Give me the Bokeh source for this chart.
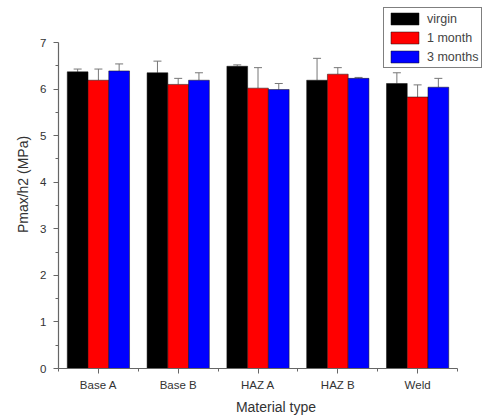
from bokeh.plotting import figure
from bokeh.models import (FixedTicker, Legend, LegendItem, Whisker, ColumnDataSource,
                          TeeHead, LinearAxis, Range1d)
from bokeh.embed import file_html
from bokeh.resources import INLINE

categories = ["Base A", "Base B", "HAZ A", "HAZ B", "Weld"]
virgin = [6.37, 6.35, 6.49, 6.19, 6.12]
month1 = [6.19, 6.10, 6.02, 6.32, 5.83]
month3 = [6.39, 6.19, 5.99, 6.23, 6.04]
err_virgin = [0.06, 0.25, 0.03, 0.47, 0.23]
err_month1 = [0.24, 0.13, 0.44, 0.14, 0.26]
err_month3 = [0.15, 0.16, 0.13, 0.02, 0.19]
series_names = ["virgin", "1 month", "3 months"]
colors = ["#000000", "#ff0000", "#0000ff"]

FONT = "Liberation Sans"

# frame spans to top/right edges so the legend can sit where the reference has it;
# the axes are bounded to the data region (x 0.5-5.5, y 0-7)
p = figure(width=493, height=419, output_backend="svg", toolbar_location=None,
           x_range=Range1d(0.5, 5.951), y_range=Range1d(0, 7.902),
           x_axis_type=None, y_axis_type=None,
           min_border_left=58, min_border_right=0, min_border_top=0, min_border_bottom=51)
p.outline_line_color = None
p.xgrid.visible = False
p.ygrid.visible = False

xaxis = LinearAxis(bounds=(0.5, 5.5))
yaxis = LinearAxis(bounds=(0, 7))
p.add_layout(xaxis, "below")
p.add_layout(yaxis, "left")

bw = 0.26
offsets = [-bw, 0.0, bw]
renderers = []
for vals, errs, off, col in zip([virgin, month1, month3], [err_virgin, err_month1, err_month3], offsets, colors):
    xs = [i + 1 + off for i in range(len(categories))]
    src = ColumnDataSource(dict(x=xs, top=vals,
                                hi=[v + e for v, e in zip(vals, errs)]))
    r = p.vbar(x="x", top="top", width=bw, bottom=0, source=src, fill_color=col,
               line_color="#111111", line_width=0.5)
    renderers.append(r)
    w = Whisker(base="x", lower="top", upper="hi", source=src,
                line_color="#777777", line_width=1,
                upper_head=TeeHead(size=8, line_color="#777777", line_width=1),
                lower_head=None)
    p.add_layout(w)

xaxis.ticker = FixedTicker(ticks=[1, 2, 3, 4, 5], minor_ticks=[0.5, 1.5, 2.5, 3.5, 4.5, 5.5])
xaxis.major_label_overrides = {i + 1: c for i, c in enumerate(categories)}
yaxis.ticker = FixedTicker(ticks=list(range(8)), minor_ticks=[k + 0.5 for k in range(7)])

for ax in (xaxis, yaxis):
    ax.axis_line_color = "#666666"
    ax.axis_line_width = 1.2
    ax.major_tick_line_color = "#666666"
    ax.minor_tick_line_color = "#666666"
    ax.major_tick_out = 5
    ax.major_tick_in = 0
    ax.minor_tick_out = 3
    ax.minor_tick_in = 0
    ax.major_label_text_font = FONT
    ax.major_label_text_font_size = "11.5px"
    ax.major_label_text_color = "#333333"
    ax.axis_label_text_font = FONT
    ax.axis_label_text_font_size = "14px"
    ax.axis_label_text_font_style = "normal"
    ax.axis_label_text_color = "#333333"

xaxis.axis_label = "Material type"
yaxis.axis_label = "Pmax/h2 (MPa)"
xaxis.major_label_standoff = 5
xaxis.axis_label_standoff = 5
yaxis.major_label_standoff = 7
yaxis.axis_label_standoff = 6

legend = Legend(items=[LegendItem(label=n, renderers=[r]) for n, r in zip(series_names, renderers)],
                location=(325, 300), border_line_color="#000000", border_line_width=1,
                background_fill_alpha=1.0, glyph_width=35, glyph_height=15,
                label_text_font=FONT, label_text_font_size="12.5px",
                padding=3, spacing=4, margin=0, label_standoff=5)
p.add_layout(legend)

open("out.html", "w").write(file_html(p, INLINE))
